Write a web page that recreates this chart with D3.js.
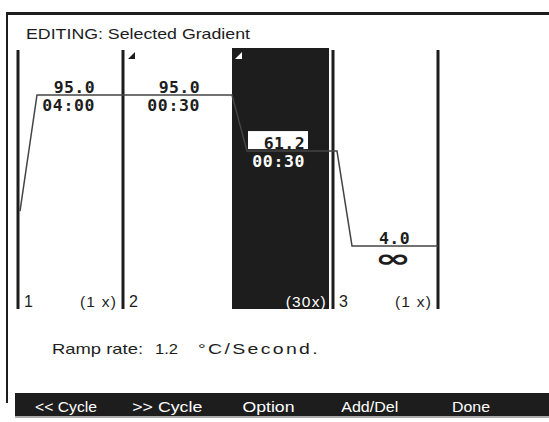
<!DOCTYPE html>
<html>
<head>
<meta charset="utf-8">
<script src="https://cdn.jsdelivr.net/npm/d3@7"></script>
<style>
  html, body { margin: 0; padding: 0; background: #fff; }
  svg { display: block; }
</style>
</head>
<body>
<svg id="chart" width="549" height="422"></svg>
<script>
// ---- data ----
const title = "EDITING: Selected Gradient";
const startTemp = 25;
const stepTemps = [95.0, 95.0, 61.2, 4.0];
const stepTimes = ["04:00", "00:30", "00:30", "∞"];
const selectedStep = 2;
const segmentLabels = ["1", "2", "3"];
const segmentCycles = ["(1 x)", "(30x)", "(1 x)"];
const segmentStartStep = [0, 1, 3];
const segmentEndStep = [1, 3, 4];
const stepMarkers = [1, 2];          // steps that show a start marker
const rampRate = 1.2;
const menuLabels = ["<< Cycle", ">> Cycle", "Option", "Add/Del", "Done"];

// ---- layout ----
const W = 549, H = 422;
const svg = d3.select("#chart");
const ink = "#1d1d1d";

const x = d3.scaleLinear().domain([0, stepTemps.length]).range([18, 438]);
const y = d3.scaleLinear().domain([0, 100]).range([252.6, 86.7]);
const menuX = d3.scalePoint().domain(menuLabels).range([66, 471]);

const yTop = 48, yBottom = 309;
const rampStart = 4, rampEnd = 19;
const sans = "Liberation Sans, Arial, sans-serif";
const lcd = "DejaVu Sans Mono, monospace";

// frame
svg.append("rect").attr("x", 6).attr("y", 12).attr("width", W - 6).attr("height", 3).attr("fill", ink);
svg.append("rect").attr("x", 6).attr("y", 12).attr("width", 2).attr("height", 391).attr("fill", ink);

// title
svg.append("text").attr("x", 26).attr("y", 39)
  .attr("font-family", sans).attr("font-size", 14.5)
  .attr("textLength", 224).attr("lengthAdjust", "spacingAndGlyphs")
  .attr("fill", ink).text(title);

// selected step highlight
svg.append("rect")
  .attr("x", x(selectedStep) + 4).attr("y", yTop)
  .attr("width", x(selectedStep + 1) - x(selectedStep) - 8)
  .attr("height", yBottom - yTop).attr("fill", ink);

// segment boundaries
const bounds = segmentStartStep.concat([segmentEndStep[segmentEndStep.length - 1]]);
svg.selectAll("rect.bound").data(bounds).enter().append("rect")
  .attr("class", "bound")
  .attr("x", d => x(d) - 1.5).attr("y", yTop + 2)
  .attr("width", 3).attr("height", yBottom - yTop - 2).attr("fill", ink);

// step markers (small triangles)
svg.selectAll("path.mark").data(stepMarkers).enter().append("path")
  .attr("class", "mark")
  .attr("d", d => {
    const x0 = x(d) + (d === selectedStep ? 7 : 5);
    return `M${x0},59 L${x0 + 7},52 L${x0 + 7},59 Z`;
  })
  .attr("fill", d => d === selectedStep ? "#fff" : ink);

// temperature profile
const pts = [[x(0) + 2, y(startTemp)]];
stepTemps.forEach((t, i) => {
  pts.push([x(i) + rampEnd, y(t)]);
  const endX = i === stepTemps.length - 1 ? x(i + 1) : x(i + 1) + rampStart;
  pts.push([endX, y(t)]);
});
svg.append("path").attr("d", d3.line()(pts))
  .attr("fill", "none").attr("stroke", "#444").attr("stroke-width", 1.5);

// white box behind selected temperature
svg.append("rect")
  .attr("x", x(selectedStep) + rampEnd + 1).attr("y", y(stepTemps[selectedStep]) - 20)
  .attr("width", x(selectedStep + 1) - 25 - (x(selectedStep) + rampEnd + 1))
  .attr("height", 18).attr("fill", "#fff");

// temperature labels
svg.selectAll("text.temp").data(stepTemps).enter().append("text")
  .attr("class", "temp")
  .attr("x", (d, i) => x(i + 1) - 28).attr("y", d => y(d) - 2)
  .attr("text-anchor", "end")
  .attr("font-family", lcd).attr("font-weight", "bold").attr("font-size", 16.5)
  .attr("letter-spacing", 0.4)
  .attr("fill", ink).text(d => d.toFixed(1));

// time labels
const timeG = svg.selectAll("g.time").data(stepTimes).enter().append("g")
  .attr("class", "time")
  .attr("transform", (d, i) => d === "∞"
    ? `translate(${x(i + 1) - 45},${y(stepTemps[i]) + 21}) scale(1.75,1)`
    : `translate(${x(i + 1) - 28},${y(stepTemps[i]) + 16})`);
timeG.append("text")
  .attr("text-anchor", d => d === "∞" ? "middle" : "end")
  .attr("font-family", d => d === "∞" ? "DejaVu Sans, sans-serif" : lcd)
  .attr("font-weight", "bold")
  .attr("font-size", d => d === "∞" ? 25 : 16.5)
  .attr("letter-spacing", d => d === "∞" ? 0 : 0.6)
  .attr("fill", (d, i) => i === selectedStep ? "#fff" : ink)
  .text(d => d);

// segment numbers & cycle counts
svg.selectAll("text.seg").data(segmentLabels).enter().append("text")
  .attr("class", "seg")
  .attr("x", (d, i) => x(segmentStartStep[i]) + 6).attr("y", 307)
  .attr("font-family", sans).attr("font-size", 16).attr("fill", ink).text(d => d);

svg.selectAll("text.cyc").data(segmentCycles).enter().append("text")
  .attr("class", "cyc")
  .attr("x", (d, i) => x(segmentEndStep[i]) - 6).attr("y", 307)
  .attr("text-anchor", "end")
  .attr("font-family", sans).attr("font-size", 15.5).attr("letter-spacing", 1.2)
  .attr("fill", (d, i) => segmentEndStep[i] - 1 === selectedStep ? "#fff" : ink)
  .text(d => d);

// ramp rate line
const rr = svg.append("g").attr("font-family", sans).attr("font-size", 15).attr("fill", ink);
rr.append("text").attr("x", 52).attr("y", 354).attr("textLength", 91).attr("lengthAdjust", "spacingAndGlyphs").text("Ramp rate:");
rr.append("text").attr("x", 155).attr("y", 354).attr("textLength", 23).attr("lengthAdjust", "spacingAndGlyphs").text(rampRate.toFixed(1));
rr.append("text").attr("x", 198).attr("y", 354).attr("letter-spacing", 1.8)
  .attr("textLength", 122).attr("lengthAdjust", "spacingAndGlyphs").text("°C/Second.");

// menu bar
svg.append("rect").attr("x", 15).attr("y", 393).attr("width", W - 15).attr("height", 23).attr("fill", ink);
svg.append("rect").attr("x", 15).attr("y", 416).attr("width", W - 15).attr("height", 2).attr("fill", "#aaa");
const menuWidths = [62, 70, 52, 57, 38];
svg.selectAll("text.menu").data(menuLabels).enter().append("text")
  .attr("class", "menu")
  .attr("x", d => menuX(d)).attr("y", 412)
  .attr("text-anchor", "middle")
  .attr("font-family", sans).attr("font-size", 15)
  .attr("textLength", (d, i) => menuWidths[i]).attr("lengthAdjust", "spacingAndGlyphs")
  .attr("fill", "#fff").text(d => d);
</script>
</body>
</html>
